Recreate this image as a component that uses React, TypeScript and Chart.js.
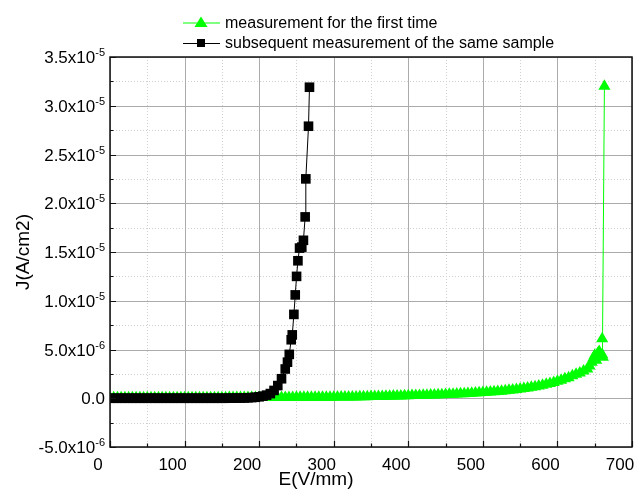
import React, { useEffect, useRef } from 'react';
import { Chart, registerables } from 'chart.js';

Chart.register(...registerables);

// ---- Data (J in units of 1e-6 A/cm2) ----
const E_FIRST = [
  0, 5, 10, 15, 20, 25, 30, 35, 40, 45,
  50, 55, 60, 65, 70, 75, 80, 85, 90, 95,
  100, 105, 110, 115, 120, 125, 130, 135, 140, 145,
  150, 155, 160, 165, 170, 175, 180, 185, 190, 195,
  200, 205, 210, 215, 220, 225, 230, 235, 240, 245,
  250, 255, 260, 265, 270, 275, 280, 285, 290, 295,
  300, 305, 310, 315, 320, 325, 330, 335, 340, 345,
  350, 355, 360, 365, 370, 375, 380, 385, 390, 395,
  400, 405, 410, 415, 420, 425, 430, 435, 440, 445,
  450, 455, 460, 465, 470, 475, 480, 485, 490, 495,
  500, 505, 510, 515, 520, 525, 530, 535, 540, 545,
  550, 555, 560, 565, 570, 575, 580, 585, 590, 595,
  600, 605, 610, 615, 620, 625, 630, 635, 640,
  643, 646, 648, 650, 652, 654, 656, 658, 660, 661, 660, 663,
];
const J_FIRST = [
  0.05, 0.05, 0.05, 0.05, 0.05, 0.05, 0.05, 0.05, 0.05, 0.05,
  0.05, 0.05, 0.05, 0.05, 0.05, 0.05, 0.05, 0.05, 0.05, 0.05,
  0.06, 0.06, 0.06, 0.06, 0.06, 0.06, 0.06, 0.06, 0.06, 0.06,
  0.06, 0.06, 0.07, 0.07, 0.07, 0.07, 0.07, 0.07, 0.07, 0.07,
  0.07, 0.07, 0.08, 0.08, 0.08, 0.08, 0.08, 0.08, 0.08, 0.08,
  0.09, 0.09, 0.09, 0.09, 0.10, 0.10, 0.10, 0.10, 0.11, 0.11,
  0.11, 0.12, 0.12, 0.13, 0.13, 0.14, 0.14, 0.15, 0.15, 0.16,
  0.17, 0.17, 0.18, 0.19, 0.20, 0.21, 0.22, 0.23, 0.24, 0.25,
  0.26, 0.27, 0.28, 0.29, 0.30, 0.31, 0.33, 0.34, 0.35, 0.37,
  0.38, 0.40, 0.41, 0.43, 0.45, 0.47, 0.49, 0.51, 0.53, 0.56,
  0.58, 0.61, 0.64, 0.67, 0.70, 0.73, 0.77, 0.81, 0.85, 0.90,
  0.95, 1.00, 1.06, 1.12, 1.19, 1.26, 1.34, 1.43, 1.52, 1.62,
  1.75, 1.85, 2.0, 2.1, 2.3, 2.45, 2.6, 2.8, 3.0,
  3.3, 3.7, 4.1, 4.4, 3.9, 4.6, 4.8, 4.3, 4.5, 4.2, 6.1, 32.0,
];

const E_SUBSEQ = [
  0, 5, 10, 15, 20, 25, 30, 35, 40, 45,
  50, 55, 60, 65, 70, 75, 80, 85, 90, 95,
  100, 105, 110, 115, 120, 125, 130, 135, 140, 145,
  150, 155, 160, 165, 170, 175, 180, 185, 190, 195,
  200, 205, 210, 215, 220, 225, 230, 235, 238, 240.4,
  243, 244.4, 246.6, 248.4, 250.2, 252, 254.2, 257.2, 259.4, 261.7,
  262.6, 266.2, 267.5,
];
const J_SUBSEQ = [
  0, 0, 0, 0, 0, 0, 0, 0, 0, 0,
  0, 0, 0, 0, 0, 0, 0, 0, 0, 0,
  0, 0, 0, 0, 0, 0, 0, 0, 0, 0,
  0, 0, 0.01, 0.01, 0.02, 0.02, 0.03, 0.05, 0.07, 0.1,
  0.15, 0.22, 0.32, 0.48, 0.8, 1.3, 2.0, 3.0, 3.7, 4.5,
  6.0, 6.5, 8.6, 10.6, 12.5, 14.1, 15.4, 15.5, 16.2, 18.6,
  22.5, 27.9, 31.9,
];

const X_TICKS = [0, 100, 200, 300, 400, 500, 600, 700];
const X_MINOR = [50, 150, 250, 350, 450, 550, 650];
const Y_TICKS = [-5, 0, 5, 10, 15, 20, 25, 30, 35];
const Y_MINOR = [-2.5, 2.5, 7.5, 12.5, 17.5, 22.5, 27.5, 32.5];

const LEGEND_LABELS = ['measurement for the first time', 'subsequent measurement of the same sample'];
const X_TITLE = 'E(V/mm)';
const Y_TITLE = 'J(A/cm2)';

const GREEN = '#00ff00';
const FONT = '"Liberation Sans", Arial, sans-serif';

// y tick label split into mantissa part and exponent (superscript)
function yLabelParts(v: number): [string, string] {
  if (Math.abs(v) < 1e-9) return ['0.0', ''];
  let exp = -6;
  let m = v;
  if (Math.abs(v) >= 10) { exp = -5; m = v / 10; }
  return [m.toFixed(1) + 'x10', String(exp)];
}

const decorPlugin = {
  id: 'decor',
  beforeDatasetsDraw(chart: any) {
    const { ctx, chartArea, scales } = chart;
    const { left, right, top, bottom } = chartArea;
    const x = scales.x, y = scales.y;
    ctx.save();
    ctx.lineWidth = 1;
    ctx.strokeStyle = '#cfcfcf';
    ctx.setLineDash([1, 2]);
    ctx.beginPath();
    X_MINOR.forEach((v) => { const p = Math.round(x.getPixelForValue(v)) + 0.5; ctx.moveTo(p, top); ctx.lineTo(p, bottom); });
    Y_MINOR.forEach((v) => { const p = Math.round(y.getPixelForValue(v)) + 0.5; ctx.moveTo(left, p); ctx.lineTo(right, p); });
    ctx.stroke();
    ctx.setLineDash([]);
    ctx.strokeStyle = '#ababab';
    ctx.beginPath();
    X_TICKS.forEach((v) => { const p = Math.round(x.getPixelForValue(v)) + 0.5; ctx.moveTo(p, top); ctx.lineTo(p, bottom); });
    Y_TICKS.forEach((v) => { const p = Math.round(y.getPixelForValue(v)) + 0.5; ctx.moveTo(left, p); ctx.lineTo(right, p); });
    ctx.stroke();
    ctx.restore();
  },
  afterDatasetsDraw(chart: any) {
    const { ctx, chartArea, scales } = chart;
    const { left, right, top, bottom } = chartArea;
    const x = scales.x, y = scales.y;
    ctx.save();
    ctx.strokeStyle = '#111';
    ctx.lineWidth = 1.5;
    ctx.strokeRect(left, top, right - left, bottom - top);
    ctx.lineWidth = 1.2;
    ctx.beginPath();
    X_TICKS.forEach((v) => { const p = Math.round(x.getPixelForValue(v)) + 0.5; ctx.moveTo(p, bottom); ctx.lineTo(p, bottom - 6); });
    X_MINOR.forEach((v) => { const p = Math.round(x.getPixelForValue(v)) + 0.5; ctx.moveTo(p, bottom); ctx.lineTo(p, bottom - 3.5); });
    Y_TICKS.forEach((v) => { const p = Math.round(y.getPixelForValue(v)) + 0.5; ctx.moveTo(left, p); ctx.lineTo(left + 6, p); });
    Y_MINOR.forEach((v) => { const p = Math.round(y.getPixelForValue(v)) + 0.5; ctx.moveTo(left, p); ctx.lineTo(left + 3.5, p); });
    ctx.stroke();
    ctx.restore();
  },
  afterDraw(chart: any) {
    const { ctx, chartArea, scales } = chart;
    const y = scales.y;
    ctx.save();
    ctx.fillStyle = '#000';
    // y tick labels with superscript exponent
    const rightEdge = chartArea.left - 5;
    Y_TICKS.forEach((v) => {
      const [main, exp] = yLabelParts(v);
      const py = y.getPixelForValue(v);
      ctx.font = `11px ${FONT}`;
      const ew = exp ? ctx.measureText(exp).width : 0;
      ctx.textAlign = 'right';
      ctx.textBaseline = 'alphabetic';
      if (exp) ctx.fillText(exp, rightEdge, py - 1);
      ctx.font = `17px ${FONT}`;
      ctx.fillText(main, rightEdge - ew, py + 6);
    });
    // axis titles
    ctx.font = `19px ${FONT}`;
    ctx.textAlign = 'center';
    ctx.textBaseline = 'middle';
    ctx.fillText(X_TITLE, (chartArea.left + chartArea.right) / 2 - 55, 480);
    ctx.save();
    ctx.translate(24, (chartArea.top + chartArea.bottom) / 2);
    ctx.rotate(-Math.PI / 2);
    ctx.fillText(Y_TITLE, 0, 0);
    ctx.restore();
    // legend
    const rows = [
      { label: LEGEND_LABELS[0], color: GREEN, style: 'triangle', cy: 22.5, base: 27.5 },
      { label: LEGEND_LABELS[1], color: '#000', style: 'rect', cy: 43, base: 48 },
    ];
    rows.forEach((r) => {
      ctx.strokeStyle = r.color;
      ctx.lineWidth = 1;
      ctx.beginPath();
      ctx.moveTo(183, r.cy + 0.5);
      ctx.lineTo(220, r.cy + 0.5);
      ctx.stroke();
      ctx.fillStyle = r.color;
      ctx.beginPath();
      if (r.style === 'triangle') {
        ctx.moveTo(201, r.cy - 6);
        ctx.lineTo(207.5, r.cy + 4.5);
        ctx.lineTo(194.5, r.cy + 4.5);
        ctx.closePath();
      } else {
        ctx.rect(197, r.cy - 4, 8, 8);
      }
      ctx.fill();
      ctx.fillStyle = '#000';
      ctx.font = `16px ${FONT}`;
      ctx.textAlign = 'left';
      ctx.textBaseline = 'alphabetic';
      ctx.fillText(r.label, 225, r.base);
    });
    ctx.restore();
  },
};

export default function App() {
  const canvasRef = useRef<HTMLCanvasElement | null>(null);

  useEffect(() => {
    if (!canvasRef.current) return;
    const chart = new Chart(canvasRef.current, {
      type: 'scatter',
      data: {
        datasets: [
          {
            label: LEGEND_LABELS[1],
            data: E_SUBSEQ.map((e, i) => ({ x: e, y: J_SUBSEQ[i] })),
            showLine: true,
            borderColor: '#000',
            borderWidth: 1,
            pointStyle: 'rect',
            pointRadius: 6.8,
            pointBackgroundColor: '#000',
            pointBorderColor: '#000',
            pointBorderWidth: 0,
            order: 0,
          },
          {
            label: LEGEND_LABELS[0],
            data: E_FIRST.map((e, i) => ({ x: e, y: J_FIRST[i] })),
            showLine: true,
            borderColor: GREEN,
            borderWidth: 1,
            pointStyle: 'triangle',
            pointRadius: 7,
            pointBackgroundColor: GREEN,
            pointBorderColor: GREEN,
            pointBorderWidth: 0,
            order: 1,
          },
        ],
      } as any,
      options: {
        animation: false,
        responsive: true,
        maintainAspectRatio: false,
        layout: { padding: { top: 57, left: 0, right: 3, bottom: 0 } },
        plugins: { legend: { display: false }, tooltip: { enabled: false } },
        scales: {
          x: {
            type: 'linear',
            min: 0,
            max: 700,
            afterBuildTicks: (s: any) => { s.ticks = X_TICKS.map((v) => ({ value: v })); },
            afterFit: (s: any) => { s.height = 45; s.paddingRight = 0; s.paddingLeft = 0; },
            ticks: {
              color: '#000',
              font: { family: FONT, size: 17 },
              padding: 8,
              labelOffset: -12,
              maxRotation: 0,
              autoSkip: false,
              callback: (v: any) => String(v),
            },
            grid: { display: false, drawTicks: false },
            border: { display: false },
          },
          y: {
            type: 'linear',
            min: -5,
            max: 35,
            afterBuildTicks: (s: any) => { s.ticks = Y_TICKS.map((v) => ({ value: v })); },
            afterFit: (s: any) => { s.width = 110; s.paddingTop = 0; s.paddingBottom = 0; },
            ticks: { display: false },
            grid: { display: false, drawTicks: false },
            border: { display: false },
          },
        },
      } as any,
      plugins: [decorPlugin],
    });
    return () => chart.destroy();
  }, []);

  return (
    <div style={{ position: 'fixed', left: 0, top: 0, width: 639, height: 492, background: '#fff' }}>
      <canvas ref={canvasRef} />
    </div>
  );
}
